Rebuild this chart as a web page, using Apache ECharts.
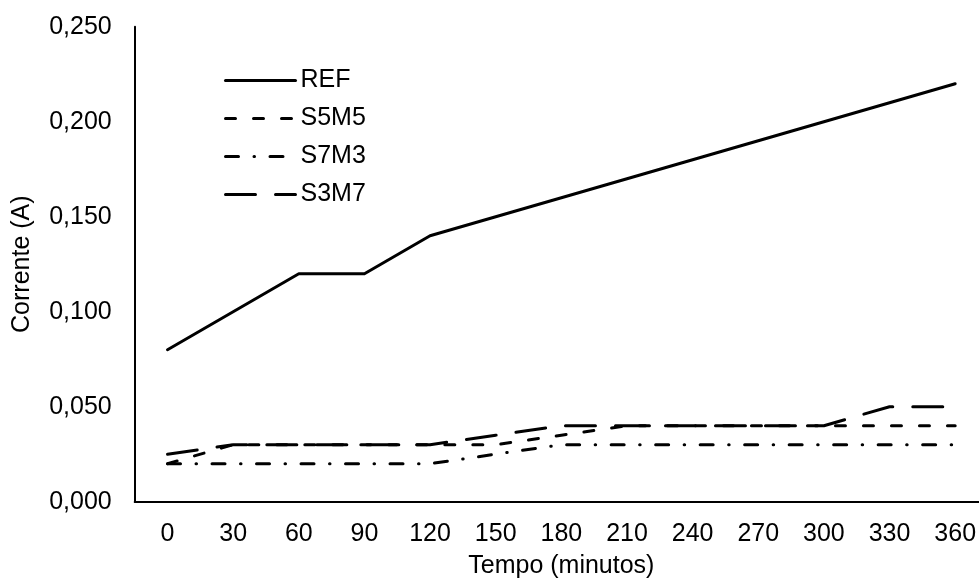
<!DOCTYPE html>
<html>
<head>
<meta charset="utf-8">
<script src="https://cdn.jsdelivr.net/npm/echarts@6/dist/echarts.min.js"></script>
<style>
  html, body { margin: 0; padding: 0; background: #fff; }
  #chart { width: 979px; height: 583px; }
</style>
</head>
<body>
<div id="chart"></div>
<script>
var tempo = ['0', '30', '60', '90', '120', '150', '180', '210', '240', '270', '300', '330', '360'];
var ref  = [0.080, 0.100, 0.120, 0.120, 0.140, 0.150, 0.160, 0.170, 0.180, 0.190, 0.200, 0.210, 0.220];
var s5m5 = [0.020, 0.030, 0.030, 0.030, 0.030, 0.030, 0.035, 0.040, 0.040, 0.040, 0.040, 0.040, 0.040];
var s7m3 = [0.020, 0.020, 0.020, 0.020, 0.020, 0.025, 0.030, 0.030, 0.030, 0.030, 0.030, 0.030, 0.030];
var s3m7 = [0.025, 0.030, 0.030, 0.030, 0.030, 0.035, 0.040, 0.040, 0.040, 0.040, 0.040, 0.050, 0.050];

var FONT = 'Liberation Sans, Arial, sans-serif';

function serie(name, data, dash) {
    return {
        name: name,
        type: 'line',
        data: data,
        symbol: 'none',
        lineStyle: { color: '#000', width: 3, type: dash, cap: 'round', join: 'round' },
        itemStyle: { color: '#000' }
    };
}

var myChart = echarts.init(document.getElementById('chart'));

var option = {
    backgroundColor: '#fff',
    animation: false,
    textStyle: { fontFamily: FONT, color: '#000' },
    grid: { left: 134.7, top: 26.7, right: -9, bottom: 81.3, containLabel: false, outerBoundsMode: 'none' },
    legend: {
        orient: 'vertical',
        left: 219,
        top: 63,
        itemWidth: 70,
        itemHeight: 25,
        itemGap: 13,
        itemStyle: { opacity: 0 },
        lineStyle: { width: 3 },
        textStyle: { fontFamily: FONT, fontSize: 25, color: '#000' },
        data: ['REF', 'S5M5', 'S7M3', 'S3M7']
    },
    xAxis: {
        type: 'category',
        data: tempo,
        boundaryGap: true,
        name: 'Tempo (minutos)',
        nameLocation: 'middle',
        nameGap: 52,
        nameTextStyle: { fontFamily: FONT, fontSize: 25, color: '#000' },
        axisLine: { lineStyle: { color: '#000', width: 2 } },
        axisTick: { show: false },
        axisLabel: { fontFamily: FONT, fontSize: 25, color: '#000', margin: 20 },
        splitLine: { show: false }
    },
    yAxis: {
        type: 'value',
        min: 0,
        max: 0.25,
        interval: 0.05,
        name: 'Corrente (A)',
        nameLocation: 'middle',
        nameGap: 100,
        nameTextStyle: { fontFamily: FONT, fontSize: 25, color: '#000' },
        axisLine: { show: true, lineStyle: { color: '#000', width: 2 } },
        axisTick: { show: false },
        splitLine: { show: false },
        axisLabel: {
            fontFamily: FONT, fontSize: 25, color: '#000', margin: 23,
            formatter: function(v) { return v.toFixed(3).replace('.', ','); }
        }
    },
    series: [
        serie('REF', ref, 'solid'),
        serie('S5M5', s5m5, [10, 18]),
        serie('S7M3', s7m3, [13, 15.5, 0.5, 15.5]),
        serie('S3M7', s3m7, [30, 20])
    ]
};

myChart.setOption(option);
</script>
</body>
</html>
